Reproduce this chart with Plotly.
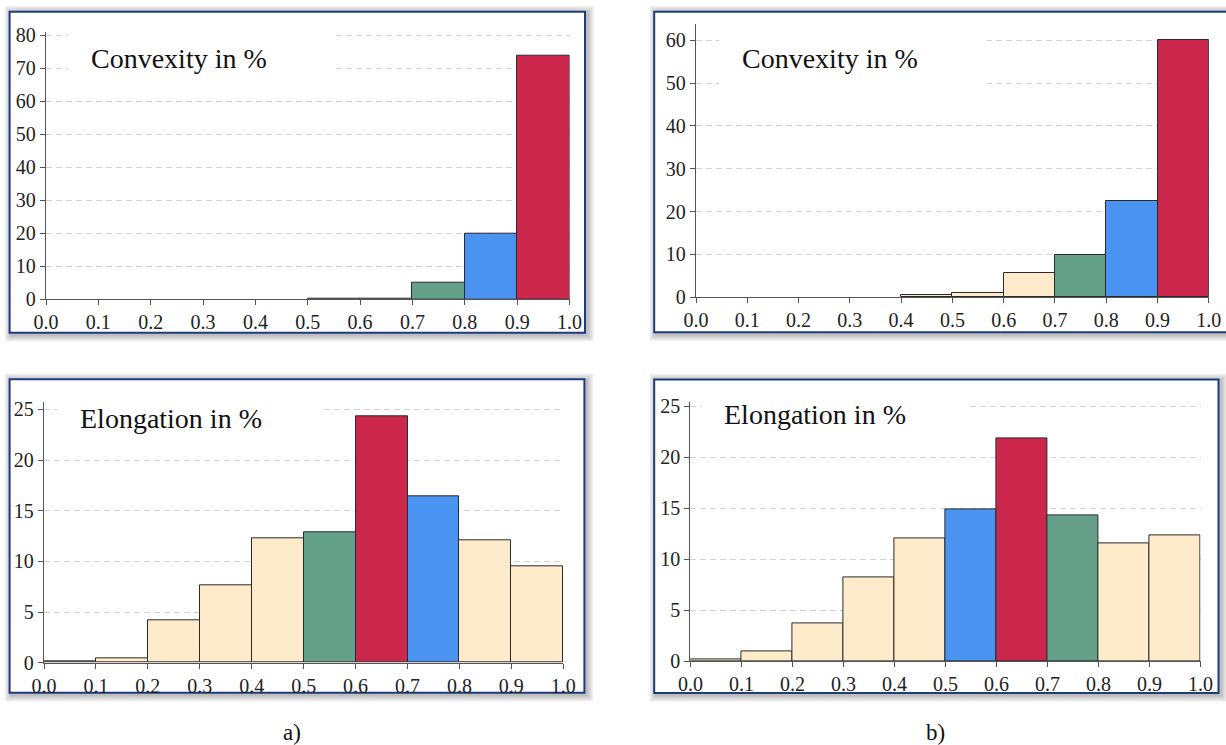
import plotly.graph_objects as go

W, H = 1226, 745

# ---------------- data ----------------
bin_left = [0.0, 0.1, 0.2, 0.3, 0.4, 0.5, 0.6, 0.7, 0.8, 0.9]
bin_width = 0.1

conv_a = [None, None, None, None, None, 0.3, 0.3, 5.0, 20.0, 73.8]
conv_b = [None, None, None, None, 0.55, 1.0, 5.6, 9.8, 22.4, 60.0]
elong_a = [0.1, 0.4, 4.2, 7.6, 12.3, 12.9, 24.3, 16.45, 12.1, 9.5]
elong_b = [0.15, 0.95, 3.7, 8.2, 12.05, 14.85, 21.85, 14.25, 11.55, 12.3]

CREAM, GREEN, BLUE, RED = "#FEEBCB", "#64A08A", "#4A93F0", "#CB264C"
col_conv_a = [CREAM] * 7 + [GREEN, BLUE, RED]
col_conv_b = [CREAM] * 7 + [GREEN, BLUE, RED]
col_elong_a = [CREAM] * 5 + [GREEN, RED, BLUE, CREAM, CREAM]
col_elong_b = [CREAM] * 5 + [BLUE, RED, GREEN, CREAM, CREAM]

x_ticks = [0.0, 0.1, 0.2, 0.3, 0.4, 0.5, 0.6, 0.7, 0.8, 0.9, 1.0]
titles = ["Convexity in %", "Convexity in %", "Elongation in %", "Elongation in %"]
panel_labels = ["a)", "b)"]

# ---------------- layout helpers ----------------
def px_x(p):
    return p / W

def px_y(p):
    return 1 - p / H

# plot areas in pixels: (x0, x1, ytop, ybottom)
areas = [
    (46.0, 569.5, 31.7, 299.3),
    (696.0, 1208.8, 24.0, 297.3),
    (44.0, 563.3, 402.3, 662.7),
    (690.4, 1200.5, 402.4, 661.3),
]
y_ranges = [[0, 81.0], [0, 63.8], [0, 25.7], [0, 25.36]]
y_dticks = [10, 10, 5, 5]
# frames in pixels: (x0, y0, x1, y1)
frames = [
    (9.6, 11.7, 585.0, 332.7),
    (654.2, 11.7, 1245.0, 332.2),
    (9.6, 379.3, 584.4, 692.7),
    (654.2, 379.5, 1218.5, 693.0),
]
# white boxes behind titles in data coords (x0, x1, y0)
title_boxes = [(0.042, 0.552, 63.0), (0.045, 0.567, 43.0), (0.026, 0.54, 21.6), (0.022, 0.546, 21.6)]
title_pos = [(0.083, 73.0), (0.086, 55.8), (0.066, 24.1), (0.062, 24.2)]

series = [(conv_a, col_conv_a), (conv_b, col_conv_b), (elong_a, col_elong_a), (elong_b, col_elong_b)]

fig = go.Figure()
shapes = []
annotations = []

# frames with soft shadow
for (fx0, fy0, fx1, fy1) in frames:
    for k in range(7, 0, -1):
        shapes.append(dict(
            type="rect", xref="paper", yref="paper", layer="below",
            x0=px_x(fx0 - k + 2), x1=px_x(fx1 + k + 2),
            y0=px_y(fy1 + k + 2), y1=px_y(fy0 - k + 1),
            fillcolor="rgba(0,0,0,0.04)", line=dict(width=0),
        ))
    shapes.append(dict(
        type="rect", xref="paper", yref="paper", layer="below",
        x0=px_x(fx0), x1=px_x(fx1), y0=px_y(fy1), y1=px_y(fy0),
        fillcolor="white", line=dict(color="#1E3C7C", width=2),
    ))

layout_axes = {}
for i, ((ax0, ax1, aytop, aybot), (vals, cols)) in enumerate(zip(areas, series)):
    n = "" if i == 0 else str(i + 1)
    xa, ya = "x" + n, "y" + n
    fig.add_trace(go.Bar(
        x=bin_left, y=vals, width=bin_width, offset=0,
        marker=dict(color=cols, line=dict(color="#2B2B2B", width=1)),
        xaxis=xa, yaxis=ya, showlegend=False, hoverinfo="skip",
    ))
    layout_axes["xaxis" + n] = dict(
        domain=[px_x(ax0), px_x(ax1)], anchor=ya, range=[0, 1], automargin=False,
        tickvals=x_ticks, ticktext=[f"{v:.1f}" for v in x_ticks],
        showgrid=False, zeroline=False, showline=True, linecolor="#555555", linewidth=1.3,
        ticks="outside", ticklen=5, tickcolor="#555555", tickwidth=1.2,
        tickfont=dict(family="Liberation Serif", size=20, color="#222222"),
        fixedrange=True,
    )
    layout_axes["yaxis" + n] = dict(
        domain=[px_y(aybot), px_y(aytop)], anchor=xa, range=y_ranges[i], automargin=False,
        dtick=y_dticks[i], tick0=0,
        showgrid=True, gridcolor="#D2D2D2", gridwidth=1, griddash="6px,4px",
        zeroline=False, showline=True, linecolor="#555555", linewidth=1.3,
        ticks="outside", ticklen=5, tickcolor="#555555", tickwidth=1.2,
        tickfont=dict(family="Liberation Serif", size=20, color="#222222"),
        fixedrange=True,
    )
    bx0, bx1, by0 = title_boxes[i]
    shapes.append(dict(
        type="rect", xref=xa, yref=ya, layer="above",
        x0=bx0, x1=bx1, y0=by0, y1=y_ranges[i][1],
        fillcolor="white", line=dict(width=0),
    ))
    tx, ty = title_pos[i]
    annotations.append(dict(
        x=tx, y=ty, xref=xa, yref=ya, text=titles[i], showarrow=False,
        xanchor="left", yanchor="middle",
        font=dict(family="Liberation Serif", size=28, color="#111111"),
    ))

annotations.append(dict(x=px_x(292), y=px_y(732), xref="paper", yref="paper",
                        text=panel_labels[0], showarrow=False, xanchor="center", yanchor="middle",
                        font=dict(family="Liberation Serif", size=23, color="#111111")))
annotations.append(dict(x=px_x(935), y=px_y(732), xref="paper", yref="paper",
                        text=panel_labels[1], showarrow=False, xanchor="center", yanchor="middle",
                        font=dict(family="Liberation Serif", size=23, color="#111111")))

fig.update_layout(
    width=W, height=H, autosize=False,
    margin=dict(l=0, r=0, t=0, b=0, pad=0, autoexpand=False),
    paper_bgcolor="white", plot_bgcolor="rgba(0,0,0,0)",
    barmode="overlay", bargap=0,
    shapes=shapes, annotations=annotations,
    **layout_axes,
)

fig.write_html(
    "out.html",
    config={"displayModeBar": False},
    post_script="document.body.style.margin='0';document.body.style.overflow='hidden';",
)
